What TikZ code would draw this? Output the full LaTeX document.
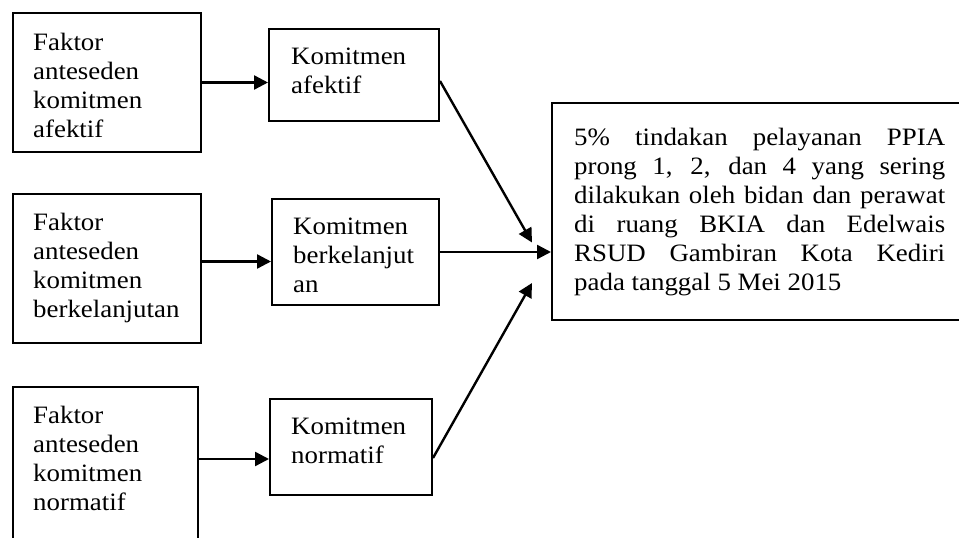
\documentclass[tikz,border=0pt]{standalone}
\usepackage{fontspec}
\setmainfont{Liberation Serif}[FakeStretch=1.075]
\usetikzlibrary{arrows.meta,fit,calc}
\begin{document}
\begin{tikzpicture}[x=1pt,y=-1pt,
  box/.style={draw=black, line width=2pt, inner sep=0pt},
  txt/.style={inner sep=0pt, anchor=base west, font=\fontsize{25}{29}\selectfont},
  arr/.style={draw=black, line width=2.4pt, -{Triangle[length=14pt,width=14pt]}}]
\useasboundingbox (0,0) rectangle (959,538);
\clip (0,0) rectangle (959,538);
% boxes
\node[box, fit={(13,13) (201,152)}] (b1) {};
\node[box, fit={(13,194) (201,343)}] (b2) {};
\node[box, fit={(13,387) (198,545)}] (b3) {};
\node[box, fit={(269,29) (439,121)}] (m1) {};
\node[box, fit={(272,199) (439,305)}] (m2) {};
\node[box, fit={(270,399) (432,495)}] (m3) {};
\node[box, fit={(552,103) (966,320)}] (r) {};
% texts
\node[txt] (t1) at (33,50) {\parbox[t]{165pt}{\raggedright Faktor\\anteseden\\komitmen\\afektif}};
\node[txt] (t2) at (33,230) {\parbox[t]{165pt}{\raggedright Faktor\\anteseden\\komitmen\\berkelanjutan}};
\node[txt] (t3) at (33,423) {\parbox[t]{160pt}{\raggedright Faktor\\anteseden\\komitmen\\normatif}};
\node[txt] (t4) at (291,64) {\parbox[t]{145pt}{\raggedright Komitmen\\afektif}};
\node[txt] (t5) at (293,234) {\parbox[t]{145pt}{\raggedright Komitmen\\berkelanjut\\an}};
\node[txt] (t6) at (291,434) {\parbox[t]{140pt}{\raggedright Komitmen\\normatif}};
\node[txt] (t7) at (574,145) {\parbox[t]{371pt}{\hyphenpenalty=10000\exhyphenpenalty=10000
5\% tindakan pelayanan PPIA\linebreak prong 1, 2, dan 4 yang sering\linebreak dilakukan oleh bidan dan perawat\linebreak di ruang BKIA dan Edelwais\linebreak RSUD Gambiran Kota Kediri\linebreak pada tanggal 5 Mei 2015}};
% connectors
\draw[arr] (b1.east) -- (b1.east -| m1.west);
\coordinate (a2) at ([yshift=7pt]b2.east);
\draw[arr] (a2) -- (a2 -| m2.west);
\coordinate (a3) at ([yshift=7pt]b3.east);
\draw[arr] (a3) -- (a3 -| m3.west);
\draw[arr] (m2.east) -- (m2.east -| r.west);
\coordinate (s1) at ([yshift=-6pt]m1.east);
\coordinate (e1) at ([xshift=-19pt,yshift=-31pt]r.west);
\draw[arr] (s1) -- (e1);
\coordinate (s3) at ([yshift=-11pt]m3.east);
\coordinate (e3) at ([xshift=-19pt,yshift=-71.5pt]r.west);
\draw[arr] (s3) -- (e3);
\end{tikzpicture}
\end{document}
